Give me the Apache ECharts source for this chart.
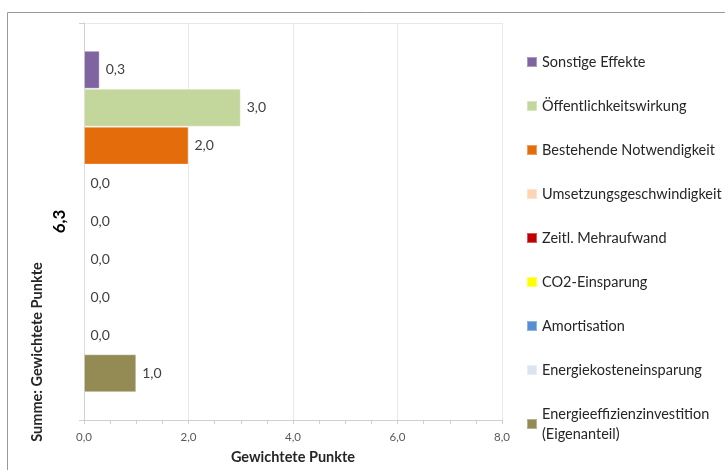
<!DOCTYPE html>
<html>
<head>
<meta charset="utf-8">
<script src="https://cdn.jsdelivr.net/npm/echarts@6/dist/echarts.min.js"></script>
<style>
  html, body { margin: 0; padding: 0; background: #ffffff; }
  #chart { width: 725px; height: 470px; }
</style>
</head>
<body>
<div id="chart"></div>
<script>
// Single category (total of weighted points), one bar per criterion
const categories = ['6,3'];
const seriesNames = [
  'Sonstige Effekte',
  'Öffentlichkeitswirkung',
  'Bestehende Notwendigkeit',
  'Umsetzungsgeschwindigkeit',
  'Zeitl. Mehraufwand',
  'CO2-Einsparung',
  'Amortisation',
  'Energiekosteneinsparung',
  'Energieeffizienzinvestition\n(Eigenanteil)'
];
const seriesValues = [0.3, 3.0, 2.0, 0.0, 0.0, 0.0, 0.0, 0.0, 1.0];
const seriesColors = [
  '#8064a2', '#c3d69b', '#e46c0a', '#fcd5b5', '#c00000',
  '#ffff00', '#558ed5', '#dbe5f1', '#948a54'
];
const xTicks = [0, 2, 4, 6, 8];

const FONT = 'Lato, "Open Sans", sans-serif';
const fmt = v => Number(v).toFixed(1).replace('.', ',');

const chart = echarts.init(document.getElementById('chart'), null, { renderer: 'canvas' });

const series = seriesNames.map((name, i) => ({
  name: name,
  type: 'bar',
  barGap: 0,
  barCategoryGap: '14%',
  data: [seriesValues[i]],
  itemStyle: { color: seriesColors[i], borderColor: 'rgba(255,255,255,0.35)', borderWidth: 1 },
  label: {
    show: true,
    position: 'right',
    distance: 6,
    formatter: p => fmt(p.value),
    fontFamily: FONT,
    fontSize: 14,
    color: '#404040'
  },
  emphasis: { disabled: true }
}));

chart.setOption({
  animation: false,
  textStyle: { fontFamily: FONT },
  grid: { left: 84, right: 223, top: 23, bottom: 48, containLabel: false },
  xAxis: {
    type: 'value',
    min: xTicks[0],
    max: xTicks[xTicks.length - 1],
    interval: 2,
    name: 'Gewichtete Punkte',
    nameLocation: 'middle',
    nameGap: 30,
    nameTextStyle: { fontFamily: FONT, fontSize: 14.5, fontWeight: 'bold', color: '#262626' },
    axisLine: { show: true, lineStyle: { color: '#d0d0d0' } },
    axisTick: { show: true, length: 4, lineStyle: { color: '#d0d0d0' } },
    minorTick: { show: true, splitNumber: 4, length: 4, lineStyle: { color: '#d0d0d0' } },
    axisLabel: { formatter: fmt, fontFamily: FONT, fontSize: 11.5, color: '#595959', margin: 11 },
    splitLine: { show: true, lineStyle: { color: '#e8e8e8' } }
  },
  yAxis: {
    type: 'category',
    data: categories,
    axisLine: { show: true, lineStyle: { color: '#d0d0d0' } },
    axisTick: { show: true, length: 5, lineStyle: { color: '#d0d0d0' } },
    axisLabel: {
      rotate: 90,
      margin: 16,
      fontFamily: FONT,
      fontSize: 17,
      fontWeight: 'bold',
      color: '#000000'
    },
    splitLine: { show: true, lineStyle: { color: '#e8e8e8' } }
  },
  legend: {
    orient: 'vertical',
    left: 526,
    top: 52,
    padding: 0,
    itemWidth: 10,
    itemHeight: 10,
    itemGap: 24,
    icon: 'rect',
    textStyle: { fontFamily: FONT, fontSize: 14.5, color: '#262626', lineHeight: 20 },
    data: seriesNames
  },
  graphic: [
    {
      type: 'rect',
      silent: true,
      shape: { x: 7.5, y: 12.5, width: 800, height: 600 },
      style: { fill: 'none', stroke: '#9a9a9a', lineWidth: 1 }
    },
    {
      type: 'text',
      silent: true,
      x: 37,
      y: 352,
      rotation: Math.PI / 2,
      style: {
        text: 'Summe: Gewichtete Punkte',
        fontFamily: FONT,
        fontSize: 14.5,
        fontWeight: 'bold',
        fill: '#262626',
        align: 'center',
        verticalAlign: 'middle'
      }
    }
  ],
  series: series
});
</script>
</body>
</html>
